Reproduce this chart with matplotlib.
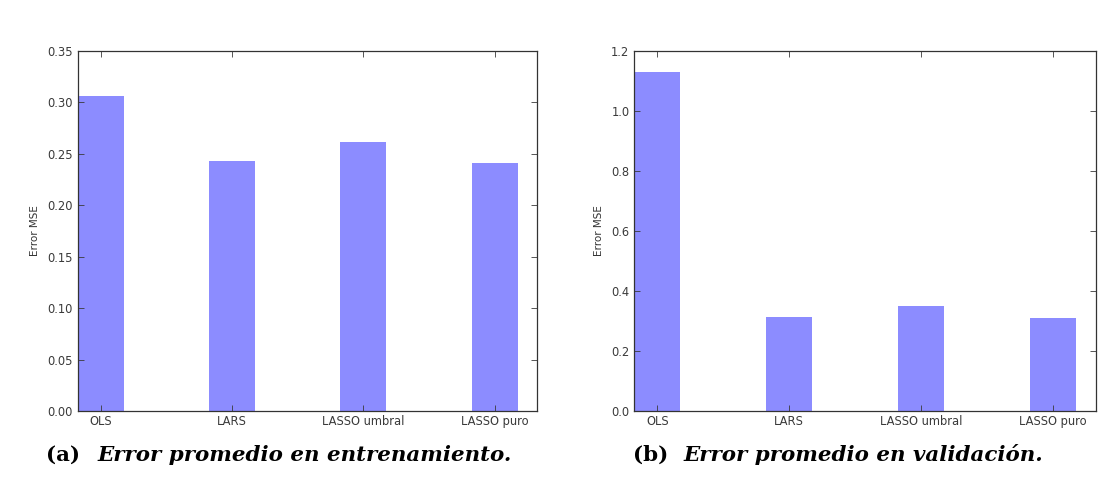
import numpy as np
import matplotlib
matplotlib.use('Agg')
import matplotlib.pyplot as plt

# data
metodos = ['OLS', 'LARS', 'LASSO umbral', 'LASSO puro']
err_train = [0.306, 0.243, 0.262, 0.241]
err_valid = [1.130, 0.313, 0.351, 0.310]
yt_train = [0.00, 0.05, 0.10, 0.15, 0.20, 0.25, 0.30, 0.35]
yt_valid = [0.0, 0.2, 0.4, 0.6, 0.8, 1.0, 1.2]

width = 0.35
ind = np.arange(len(metodos))

fig = plt.figure(figsize=(11.05, 4.83), dpi=100)
ax1 = fig.add_axes([0.0703, 0.149, 0.4161, 0.7453])
ax2 = fig.add_axes([0.574, 0.149, 0.4176, 0.7453])

def dibujar(ax, vals, yt, fmt):
    ax.bar(ind, vals, width, align='edge', color='blue', alpha=0.45, linewidth=0)
    ax.set_xlim(0, 3.5)
    ax.set_ylim(yt[0], yt[-1])
    ax.set_yticks(yt)
    ax.set_yticklabels([fmt % v for v in yt])
    ax.set_xticks(ind + width / 2)
    ax.set_xticklabels(metodos)
    ax.set_ylabel('Error MSE', fontsize=7.5, color='#333333', labelpad=5)
    ax.tick_params(direction='in', length=4, width=0.6, top=True, right=True,
                   labelsize=8.3, colors='#3a3a3a', pad=3.5)
    ax.tick_params(axis='x', pad=2.5)
    for s in ax.spines.values():
        s.set_color('#333333')
        s.set_linewidth(0.9)

dibujar(ax1, err_train, yt_train, '%.2f')
dibujar(ax2, err_valid, yt_valid, '%.1f')

cap_kw = dict(fontsize=15.4, family='DejaVu Serif', fontweight='bold', va='center')
fig.text(0.042, 0.058, '(a)', **cap_kw)
fig.text(0.088, 0.058, 'Error promedio en entrenamiento.', style='italic', **cap_kw)
fig.text(0.573, 0.058, '(b)', **cap_kw)
fig.text(0.619, 0.058, 'Error promedio en validación.', style='italic', **cap_kw)

fig.savefig('out.png', dpi=100)
